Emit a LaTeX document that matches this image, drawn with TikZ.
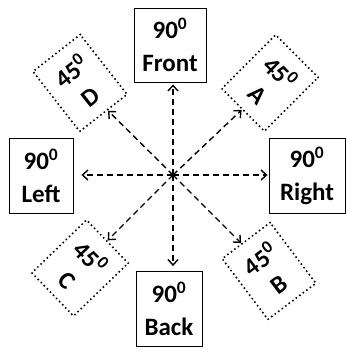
\documentclass[tikz,border=0pt]{standalone}
\usepackage{fontspec}
\setmainfont{Carlito}
\usetikzlibrary{arrows.meta}

\begin{document}
\begin{tikzpicture}[x=1pt, y=-1pt, sidebox/.style={draw, line width=0.9pt,
      align=center, inner sep=0pt, font=\fontsize{25pt}{33pt}\selectfont\bfseries},
      tiltbox/.style={draw, line width=2.2pt, dash pattern=on 0pt off 4.4pt,
      line cap=round, align=center, inner sep=0pt, minimum width=60pt,
      minimum height=76pt, font=\fontsize{25pt}{31pt}\selectfont\bfseries},
      ray/.style={line width=1.4pt, dash pattern=on 6pt off 4pt,
      -{Straight Barb[length=5.5pt,width=10pt]}} ]

    \useasboundingbox (0,0) rectangle (346,353);

    % Straight boxes
    \node[sidebox, minimum width=72pt, minimum height=74pt] (front) at (170,45)
    {90\textsuperscript{0}\\Front}; \node[sidebox, minimum width=66pt, minimum
    height=75pt] (back) at (169,309) {90\textsuperscript{0}\\Back};
    \node[sidebox, minimum width=64pt, minimum height=75pt] (left) at (41,175.5)
    {90\textsuperscript{0}\\Left}; \node[sidebox, minimum width=76pt, minimum
    height=75pt] (right) at (307,175.5) {90\textsuperscript{0}\\Right};

    % Tilted boxes
    \node[tiltbox, rotate=-45] (a) at (270,83) {45\textsuperscript{0}\\A};
    \node[tiltbox, rotate=37] (b) at (269,271) {45\textsuperscript{0}\\B};
    \node[tiltbox, rotate=-46] (c) at (80,268) {45\textsuperscript{0}\\C};
    \node[tiltbox, rotate=38] (d) at (80,83) {45\textsuperscript{0}\\D};

    % Rays from the middle
    \coordinate (ctr) at (173,175);
    \draw[ray, shorten >=2pt] (ctr) -- (ctr |- front.south); \draw[ray,
    shorten >=5pt] (ctr) -- (ctr |- back.north); \draw[ray, shorten >=8pt]
    (ctr) -- (ctr -| left.east); \draw[ray, shorten >=1pt] (ctr) -- (ctr -|
    right.west);
    \draw[ray] (ctr) -- (a); \draw[ray] (ctr) -- (b); \draw[ray] (ctr) -- (c);
    \draw[ray] (ctr) -- (d);

\end{tikzpicture}
\end{document}
